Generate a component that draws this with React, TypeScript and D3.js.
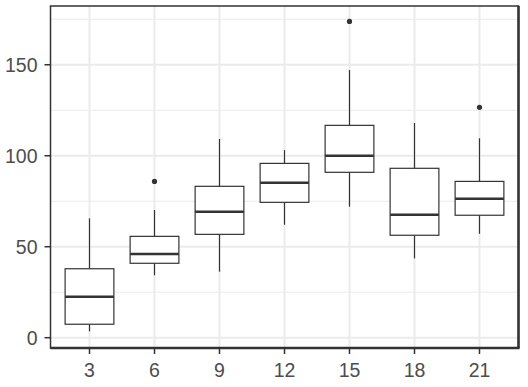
import React, { useEffect, useRef } from 'react';
import * as d3 from 'd3';

const categories = ['3', '6', '9', '12', '15', '18', '21'];
const whiskerLow = [3.5, 34.3, 36.3, 62.1, 72.0, 43.6, 57.1];
const q1 = [7.4, 40.9, 56.8, 74.4, 90.9, 56.3, 67.3];
const medians = [22.5, 46.0, 69.2, 85.2, 100.0, 67.6, 76.4];
const q3 = [37.9, 55.7, 83.2, 95.8, 116.7, 93.1, 85.9];
const whiskerHigh = [65.6, 70.2, 109.2, 103.1, 147.1, 118.0, 109.6];
const outliers: [string, number][] = [
  ['6', 85.9],
  ['15', 173.8],
  ['21', 126.6],
];
const yTicks = [0, 50, 100, 150];
const yMinorTicks = [25, 75, 125, 175];

const App: React.FC = () => {
  const ref = useRef<SVGSVGElement | null>(null);

  useEffect(() => {
    const svg = d3.select(ref.current);
    svg.selectAll('*').remove();

    const left = 50.5;
    const right = 518.5;
    const top = 6;
    const bottom = 348;
    const ink = '#333333';
    const textCol = '#4D4D4D';
    const font = 'Liberation Sans, Arial, sans-serif';

    // ggplot discrete axis: 0.6 units of expansion on each side
    const x = d3
      .scalePoint()
      .domain(categories)
      .range([left, right])
      .padding(0.6 / (6 / 6) / 1);
    const step = (right - left) / 7.2;
    x.range([left + 0.6 * step, right - 0.6 * step]).padding(0);
    const xc = (c: string) => x(c) as number;
    const y = d3.scaleLinear().domain([-5.66, 182.3]).range([bottom, top]);
    const boxW = step * 0.75;

    const g = svg.append('g');

    // background + grid
    g.append('rect').attr('x', left).attr('y', top).attr('width', right - left).attr('height', bottom - top).attr('fill', '#fff');
    g.selectAll('.minor')
      .data(yMinorTicks)
      .enter()
      .append('line')
      .attr('x1', left)
      .attr('x2', right)
      .attr('y1', (d) => y(d))
      .attr('y2', (d) => y(d))
      .attr('stroke', '#EBEBEB')
      .attr('stroke-width', 1);
    g.selectAll('.major')
      .data(yTicks)
      .enter()
      .append('line')
      .attr('x1', left)
      .attr('x2', right)
      .attr('y1', (d) => y(d))
      .attr('y2', (d) => y(d))
      .attr('stroke', '#EBEBEB')
      .attr('stroke-width', 2);
    g.selectAll('.vmajor')
      .data(categories)
      .enter()
      .append('line')
      .attr('x1', (d) => xc(d))
      .attr('x2', (d) => xc(d))
      .attr('y1', top)
      .attr('y2', bottom)
      .attr('stroke', '#EBEBEB')
      .attr('stroke-width', 2);

    // boxes
    categories.forEach((c, i) => {
      const cx = xc(c);
      g.append('line').attr('x1', cx).attr('x2', cx).attr('y1', y(q3[i])).attr('y2', y(whiskerHigh[i])).attr('stroke', ink).attr('stroke-width', 1.2);
      g.append('line').attr('x1', cx).attr('x2', cx).attr('y1', y(q1[i])).attr('y2', y(whiskerLow[i])).attr('stroke', ink).attr('stroke-width', 1.2);
      g.append('rect')
        .attr('x', cx - boxW / 2)
        .attr('y', y(q3[i]))
        .attr('width', boxW)
        .attr('height', y(q1[i]) - y(q3[i]))
        .attr('fill', '#fff')
        .attr('stroke', ink)
        .attr('stroke-width', 1.2);
      g.append('line')
        .attr('x1', cx - boxW / 2)
        .attr('x2', cx + boxW / 2)
        .attr('y1', y(medians[i]))
        .attr('y2', y(medians[i]))
        .attr('stroke', ink)
        .attr('stroke-width', 2.4);
    });

    g.selectAll('.out')
      .data(outliers)
      .enter()
      .append('circle')
      .attr('cx', (d) => xc(d[0]))
      .attr('cy', (d) => y(d[1]))
      .attr('r', 2.6)
      .attr('fill', ink);

    // panel border
    g.append('rect')
      .attr('x', left)
      .attr('y', top)
      .attr('width', right - left)
      .attr('height', bottom - top)
      .attr('fill', 'none')
      .attr('stroke', ink)
      .attr('stroke-width', 1.5);
    g.append('line').attr('x1', left).attr('x2', right + 1).attr('y1', bottom).attr('y2', bottom).attr('stroke', ink).attr('stroke-width', 2.5);
    g.append('line').attr('x1', right).attr('x2', right).attr('y1', top).attr('y2', bottom).attr('stroke', ink).attr('stroke-width', 2.5);

    // y axis
    const yAxis = g.append('g');
    yTicks.forEach((t) => {
      yAxis.append('line').attr('x1', left - 6).attr('x2', left).attr('y1', y(t)).attr('y2', y(t)).attr('stroke', ink).attr('stroke-width', 1.5);
      yAxis
        .append('text')
        .attr('x', left - 13)
        .attr('y', y(t))
        .attr('dy', '0.36em')
        .attr('text-anchor', 'end')
        .attr('font-family', font)
        .attr('font-size', 19.5)
        .attr('fill', textCol)
        .text(t);
    });

    // x axis
    const xAxis = g.append('g');
    categories.forEach((c) => {
      xAxis.append('line').attr('x1', xc(c)).attr('x2', xc(c)).attr('y1', bottom).attr('y2', bottom + 6).attr('stroke', ink).attr('stroke-width', 1.5);
      xAxis
        .append('text')
        .attr('x', xc(c))
        .attr('y', 376.5)
        .attr('text-anchor', 'middle')
        .attr('font-family', font)
        .attr('font-size', 19.5)
        .attr('fill', textCol)
        .text(c);
    });
  }, []);

  return <svg ref={ref} width={528} height={387} style={{ position: 'absolute', left: 0, top: 0, background: '#fff' }} />;
};

export default App;
